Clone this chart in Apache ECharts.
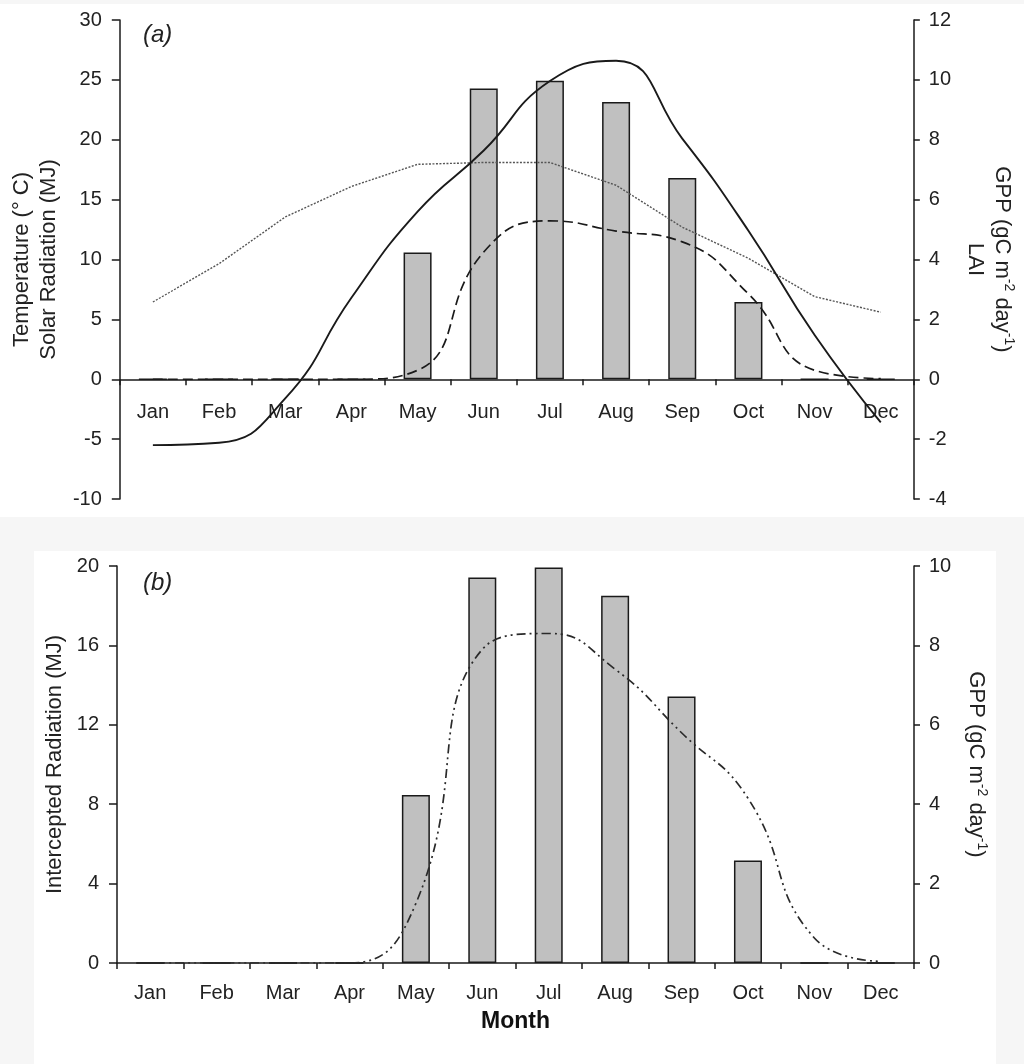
<!DOCTYPE html>
<html><head><meta charset="utf-8">
<script src="https://cdn.jsdelivr.net/npm/echarts@6/dist/echarts.min.js"></script>
<style>html,body{margin:0;padding:0;background:#f6f6f6}#c{width:1024px;height:1064px}</style>
</head><body><div id="c"></div><script>
const months = ['Jan','Feb','Mar','Apr','May','Jun','Jul','Aug','Sep','Oct','Nov','Dec'];
// Panel (a)
const gppA = [0,0,0,0,4.23,9.71,9.97,9.26,6.72,2.58,0,0];
const temperature = [-5.5,-5.3,-1.6,6.8,14.0,19.1,24.9,26.6,20.1,12.4,3.7,-3.6];
const solarRadiation = [6.45,9.65,13.55,16.1,17.95,18.1,18.1,16.2,12.7,10.1,6.9,5.6];
const lai = [0,0,0,0,0.3,4.25,5.29,4.95,4.59,2.85,0.3,0.02];
// Panel (b)
const gppB = [0,0,0,0,4.23,9.71,9.96,9.25,6.71,2.58,0,0];
const interceptedRadiation = [0,0,0,0,3.0,15.8,16.6,14.8,11.6,8.3,1.26,0.08];
const leftTicksA = {min:-10,max:30,interval:5};
const rightTicksA = {min:-4,max:12,interval:2};
const leftTicksB = {min:0,max:20,interval:4};
const rightTicksB = {min:0,max:10,interval:2};

const FONT = '"Liberation Sans", Arial, sans-serif';
const TXT = '#222';
const axisLine = {show:true, onZero:false, lineStyle:{color:'#1a1a1a', width:1.5}};

function yAxisBase(grid, t, side) {
  return {
    type:'value', gridIndex:grid, position:side, min:t.min, max:t.max, interval:t.interval,
    axisLine: axisLine,
    axisTick:{show:true, inside:false, length: side==='left'?8:6, lineStyle:{color:'#1a1a1a', width:1.5}},
    axisLabel:{color:TXT, fontSize:20, fontFamily:FONT, margin: side==='left'?18:15},
    splitLine:{show:false}
  };
}
function xAxisBase(grid, margin) {
  return {
    type:'category', gridIndex:grid, data:months, boundaryGap:true, position:'bottom',
    axisLine:{show:true, onZero:false, lineStyle:{color:'#1a1a1a', width:1.5}},
    axisTick:{show:true, alignWithLabel:false, length:6, lineStyle:{color:'#1a1a1a', width:1.5}},
    axisLabel:{color:TXT, fontSize:20, fontFamily:FONT, margin:margin, interval:0},
    splitLine:{show:false}
  };
}
const richTitle = {
  t:{fontSize:22, lineHeight:27, color:TXT, fontFamily:FONT},
  s:{fontSize:14, lineHeight:14, verticalAlign:'top', color:TXT, fontFamily:FONT}
};

const yA0 = yAxisBase(0, leftTicksA, 'left');
yA0.name = 'Temperature (° C)\nSolar Radiation (MJ)';
yA0.nameLocation = 'middle'; yA0.nameGap = 54;
yA0.nameTextStyle = {fontSize:22, lineHeight:27, color:TXT, fontFamily:FONT};
const yA1 = yAxisBase(0, rightTicksA, 'right');
yA1.name = '{t|GPP (gC m}{s|-2}{t| day}{s|-1}{t|)}\n{t|LAI}';
yA1.nameLocation = 'middle'; yA1.nameGap = 44; yA1.nameRotate = -90;
yA1.nameTextStyle = {fontSize:22, lineHeight:27, color:TXT, fontFamily:FONT, rich:richTitle};
const yB0 = yAxisBase(1, leftTicksB, 'left');
yB0.name = 'Intercepted Radiation (MJ)';
yB0.nameLocation = 'middle'; yB0.nameGap = 47;
yB0.nameTextStyle = {fontSize:22, color:TXT, fontFamily:FONT};
const yB1 = yAxisBase(1, rightTicksB, 'right');
yB1.name = '{t|GPP (gC m}{s|-2}{t| day}{s|-1}{t|)}';
yB1.nameLocation = 'middle'; yB1.nameGap = 47; yB1.nameRotate = -90;
yB1.nameTextStyle = {fontSize:22, lineHeight:27, color:TXT, fontFamily:FONT, rich:richTitle};

const xA = xAxisBase(0, 23);
xA.offset = -119.75;
const xB = xAxisBase(1, 20);
xB.name = 'Month'; xB.nameLocation = 'middle'; xB.nameGap = 47;
xB.nameTextStyle = {fontSize:23, fontWeight:'bold', color:'#111', fontFamily:FONT};

const barStyle = {color:'#c0c0c0', borderColor:'#1a1a1a', borderWidth:1.5};

const option = {
  animation:false,
  backgroundColor:'#f6f6f6',
  textStyle:{fontFamily:FONT},
  graphic:[
    {type:'rect', z:-10, silent:true, shape:{x:0,y:4,width:1024,height:513}, style:{fill:'#ffffff'}},
    {type:'rect', z:-10, silent:true, shape:{x:34,y:551,width:962,height:513}, style:{fill:'#ffffff'}},
    {type:'text', x:143, y:35, style:{text:'(a)', font:'italic 24px "Liberation Sans", Arial, sans-serif', fill:TXT, textVerticalAlign:'middle'}},
    {type:'text', x:143, y:583, style:{text:'(b)', font:'italic 24px "Liberation Sans", Arial, sans-serif', fill:TXT, textVerticalAlign:'middle'}}
  ],
  grid:[
    {left:117, right:110, top:20, height:479},
    {left:117, right:110, top:566, height:397}
  ],
  xAxis:[xA, xB],
  yAxis:[yA0, yA1, yB0, yB1],
  series:[
    {name:'GPP', type:'bar', xAxisIndex:0, yAxisIndex:1, data:gppA, barWidth:28, itemStyle:barStyle},
    {name:'Solar Radiation', type:'line', xAxisIndex:0, yAxisIndex:0, data:solarRadiation, showSymbol:false,
      lineStyle:{color:'#555', width:1.4, type:[2,1.5]}},
    {name:'Temperature', type:'line', xAxisIndex:0, yAxisIndex:0, data:temperature, smooth:0.5, showSymbol:false,
      lineStyle:{color:'#1a1a1a', width:1.9}},
    {name:'LAI', type:'line', xAxisIndex:0, yAxisIndex:1, data:lai, smooth:0.5, showSymbol:false,
      lineStyle:{color:'#1a1a1a', width:1.7, type:[10,5]}},
    {name:'GPP b', type:'bar', xAxisIndex:1, yAxisIndex:3, data:gppB, barWidth:28, itemStyle:barStyle},
    {name:'Intercepted Radiation', type:'line', xAxisIndex:1, yAxisIndex:2, data:interceptedRadiation, smooth:0.5, showSymbol:false,
      lineStyle:{color:'#2a2a2a', width:1.7, type:[9,4,2,4,2,4]}}
  ]
};
const chart = echarts.init(document.getElementById('c'), null, {renderer:'canvas'});
chart.setOption(option);
</script></body></html>
